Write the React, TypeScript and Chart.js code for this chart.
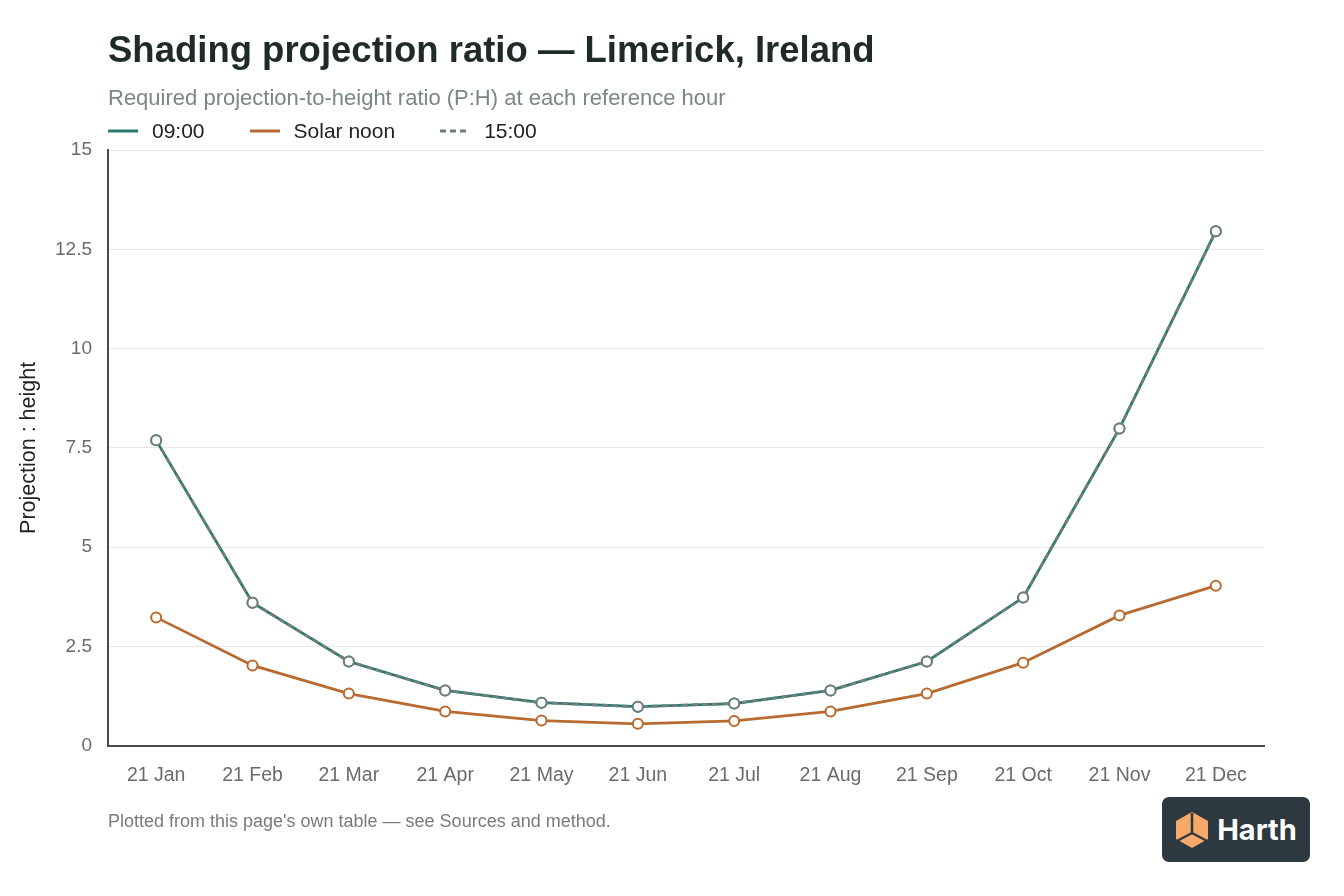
import { useEffect, useRef } from "react";
import { Chart, registerables } from "chart.js";

Chart.register(...registerables);

const months = ["21 Jan", "21 Feb", "21 Mar", "21 Apr", "21 May", "21 Jun", "21 Jul", "21 Aug", "21 Sep", "21 Oct", "21 Nov", "21 Dec"];
const morning = [7.69, 3.6, 2.12, 1.39, 1.08, 0.98, 1.06, 1.39, 2.12, 3.73, 7.99, 12.96];
const noon = [3.23, 2.02, 1.31, 0.86, 0.63, 0.55, 0.62, 0.86, 1.31, 2.09, 3.28, 4.03];
const afternoon = [7.69, 3.6, 2.12, 1.39, 1.08, 0.98, 1.06, 1.39, 2.12, 3.73, 7.99, 12.96];

const FONT = "'Liberation Sans', Arial, Helvetica, sans-serif";

const series = [
  { label: "09:00", color: "#2b7a6f", dash: false },
  { label: "Solar noon", color: "#b86a30", dash: false },
  { label: "15:00", color: "#6f7f7b", dash: true },
];

export default function App() {
  const canvasRef = useRef<HTMLCanvasElement | null>(null);

  useEffect(() => {
    document.body.style.margin = "0";
    if (!canvasRef.current) return;
    const ctx = canvasRef.current.getContext("2d");
    if (!ctx) return;

    const pointStyle = (color: string) => ({
      borderColor: color,
      backgroundColor: color,
      borderWidth: 2.75,
      pointRadius: 5,
      pointBorderWidth: 2,
      pointBackgroundColor: "#ffffff",
      pointBorderColor: color,
    });

    const chart = new Chart(ctx, {
      type: "line",
      data: {
        labels: months,
        datasets: [
          { label: "09:00", data: morning, ...pointStyle("#2b7a6f"), order: 2 },
          { label: "Solar noon", data: noon, ...pointStyle("#b86a30"), order: 1 },
          { label: "15:00", data: afternoon, ...pointStyle("#6f7f7b"), borderDash: [6, 4], order: 0 },
        ],
      },
      options: {
        animation: false,
        responsive: false,
        maintainAspectRatio: false,
        layout: { padding: { top: 21, right: 80, bottom: 10, left: 0 } },
        plugins: {
          title: {
            display: true,
            text: "Shading projection ratio — Limerick, Ireland",
            align: "start",
            fullSize: false,
            color: "#1e2b27",
            font: { family: FONT, size: 36.5, weight: "bold", lineHeight: 1.2 },
            padding: { top: 9, bottom: 6 },
          },
          subtitle: {
            display: true,
            text: "Required projection-to-height ratio (P:H) at each reference hour",
            align: "start",
            fullSize: false,
            color: "#7a8782",
            font: { family: FONT, size: 22, lineHeight: 1.2 },
            padding: { top: 6, bottom: 38 },
          },
          legend: { display: false },
          tooltip: { enabled: false },
        },
        scales: {
          x: {
            offset: true,
            grid: { display: false, drawTicks: false },
            border: { display: true, color: "#4a4a4a", width: 2 },
            ticks: {
              color: "#6b6b6b",
              padding: 18,
              maxRotation: 0,
              font: { family: FONT, size: 19.5 },
            },
          },
          y: {
            min: 0,
            max: 15,
            afterFit: (scale: any) => {
              scale.width = 108;
            },
            grid: { color: "#e8e8e8", drawTicks: false },
            border: { display: true, color: "#4a4a4a", width: 2 },
            ticks: {
              stepSize: 2.5,
              color: "#6b6b6b",
              padding: 16,
              font: { family: FONT, size: 19 },
            },
            title: {
              display: true,
              text: "Projection : height",
              color: "#222222",
              font: { family: FONT, size: 21.5 },
              padding: { top: 16, bottom: 0 },
            },
          },
        },
      },
    });

    return () => {
      chart.destroy();
    };
  }, []);

  return (
    <div style={{ position: "relative", width: 1344, height: 896, background: "#ffffff", fontFamily: FONT }}>
      <canvas ref={canvasRef} width={1344} height={815} style={{ display: "block" }}></canvas>
      <div style={{ position: "absolute", left: 108, top: 119, display: "flex", alignItems: "center", fontSize: 21, color: "#222222", lineHeight: "24px" }}>
        {series.map((s) => (
          <div key={s.label} style={{ display: "flex", alignItems: "center", marginRight: 45 }}>
            <svg width="30" height="4" style={{ marginRight: 14 }}>
              <line
                x1="0"
                y1="2"
                x2="30"
                y2="2"
                stroke={s.color}
                strokeWidth="3"
                strokeDasharray={s.dash ? "6 4" : undefined}
              />
            </svg>
            <span>{s.label}</span>
          </div>
        ))}
      </div>
      <div style={{ position: "absolute", left: 108, top: 811, fontSize: 18, color: "#7a7a7a" }}>
        Plotted from this page's own table — see Sources and method.
      </div>
      <div
        style={{
          position: "absolute",
          left: 1162,
          top: 797,
          width: 148,
          height: 65,
          background: "#2d3940",
          borderRadius: 7,
          display: "flex",
          alignItems: "center",
          justifyContent: "center",
          gap: 8,
        }}
      >
        <svg width="34" height="38" viewBox="0 0 34 38">
          <polygon points="17,1 33,10 33,28 17,37 1,28 1,10" fill="#f6a868" />
          <line x1="17" y1="2" x2="17" y2="22" stroke="#2d3940" strokeWidth="2.5" />
          <line x1="17" y1="22" x2="2" y2="30" stroke="#2d3940" strokeWidth="2.5" />
          <line x1="17" y1="22" x2="32" y2="30" stroke="#2d3940" strokeWidth="2.5" />
        </svg>
        <span style={{ color: "#ffffff", fontSize: 29, fontWeight: "bold", fontFamily: "Inter, 'Open Sans', sans-serif" }}>Harth</span>
      </div>
    </div>
  );
}
